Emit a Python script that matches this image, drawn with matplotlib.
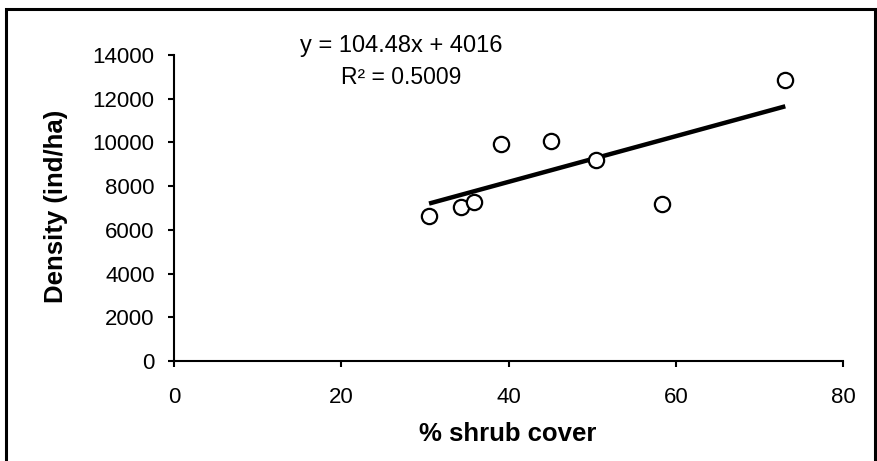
import matplotlib
matplotlib.use("Agg")
import matplotlib.pyplot as plt
import numpy as np
from matplotlib.patches import Rectangle

plt.rcParams['font.family'] = ['Liberation Sans', 'DejaVu Sans']

# Data
shrub_cover = [30.5, 34.3, 35.9, 39.1, 45.1, 50.5, 58.3, 73.1]
density = [6630, 7045, 7270, 9927, 10064, 9195, 7182, 12855]
slope = 104.48
intercept = 4016
r_squared = 0.5009
x_ticks = [0, 20, 40, 60, 80]
y_ticks = [0, 2000, 4000, 6000, 8000, 10000, 12000, 14000]

W, H = 877, 461
fig = plt.figure(figsize=(W / 100, H / 100), dpi=100)
ax = fig.add_axes([174 / W, 1 - 361 / H, (843 - 174) / W, (361 - 55) / H])

ax.plot(shrub_cover, density, linestyle='none', marker='o', ms=11,
        mfc='white', mec='black', mew=1.6, zorder=3)

xs = np.array([min(shrub_cover), max(shrub_cover)])
ax.plot(xs, slope * xs + intercept, color='black', lw=3.2, solid_capstyle='butt', zorder=2)

ax.set_xlim(0, 80)
ax.set_ylim(0, 14000)
ax.set_xticks(x_ticks)
ax.set_yticks(y_ticks)
ax.set_xticklabels([str(v) for v in x_ticks])
ax.set_yticklabels([str(v) for v in y_ticks])
for s in ['top', 'right']:
    ax.spines[s].set_visible(False)
for s in ['left', 'bottom']:
    ax.spines[s].set_linewidth(1.5)
ax.tick_params(axis='both', direction='out', length=4, width=1.5, labelsize=16, colors='black')
ax.tick_params(axis='y', pad=10)
ax.tick_params(axis='x', pad=15)

ax.set_xlabel('% shrub cover', fontsize=18.5, fontweight='bold', va='center')
ax.set_ylabel('Density (ind/ha)', fontsize=18.5, fontweight='bold', va='center')
ax.xaxis.set_label_coords((508 - 174) / (843 - 174), -(434 - 361) / (361 - 55))
ax.yaxis.set_label_coords(-(174 - 56) / (843 - 174), (361 - 206) / (361 - 55))

fig.text(300 / W, 1 - 46 / H, f'y = {slope}x + {intercept}', fontsize=17, va='center', ha='left')
fig.text(341 / W, 1 - 78 / H, f'R² = {r_squared}', fontsize=16.5, va='center', ha='left')

fig.patches.append(Rectangle((6 / W, -0.1), (875 - 6) / W, 1.1 - 9 / H,
                             transform=fig.transFigure, fill=False, lw=2.2,
                             edgecolor='black'))

fig.savefig('out.png', dpi=100)
